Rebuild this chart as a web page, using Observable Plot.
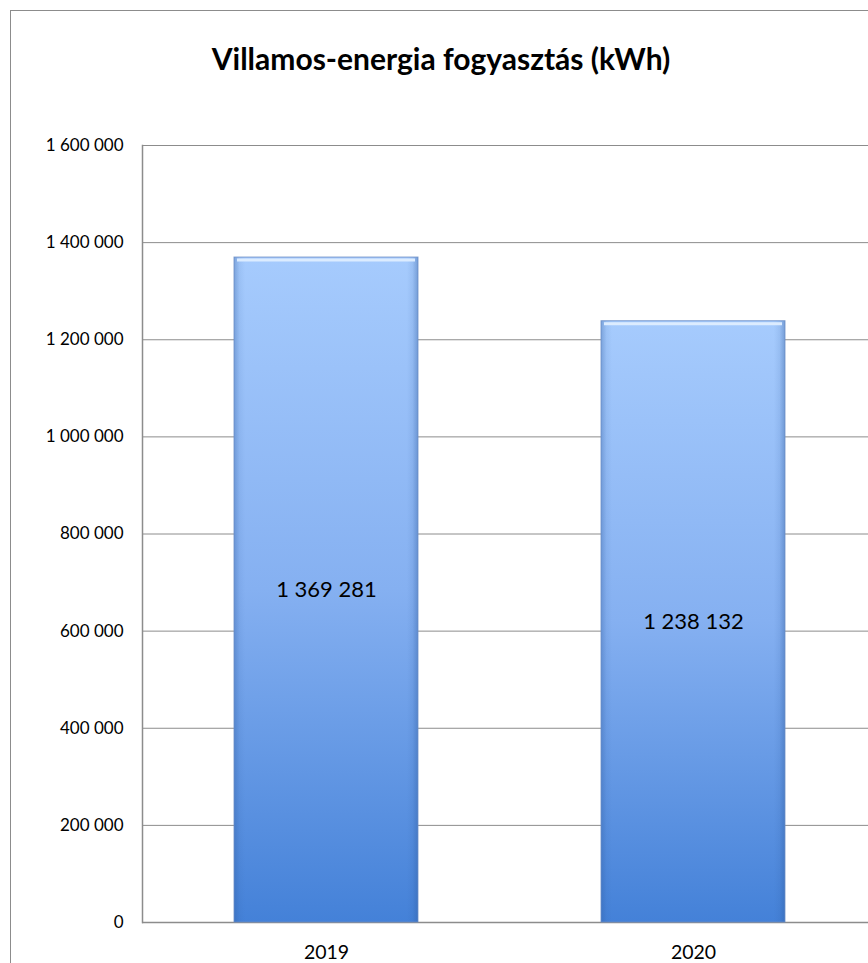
<!DOCTYPE html>
<html>
<head>
<meta charset="utf-8">
<script src="https://cdn.jsdelivr.net/npm/d3@7"></script>
<script src="https://cdn.jsdelivr.net/npm/@observablehq/plot@0.6"></script>
<style>
  html, body { margin: 0; padding: 0; background: #fff; overflow: hidden; }
  #wrap { position: relative; width: 868px; height: 963px; overflow: hidden; }
  #border { position: absolute; left: 10px; top: 10px; width: 900px; height: 1000px; border: 1px solid #8c8c8c; box-sizing: border-box; }
  #title { position: absolute; left: 10px; width: 862px; top: 40px; text-align: center;
           font-family: Lato, "Open Sans", sans-serif; font-weight: bold; font-size: 30px; color: #000; line-height: 36px; }
  #chart { position: absolute; left: 0; top: 0; width: 890px; height: 963px; }
  #chart svg { max-width: none !important; width: 890px; height: 963px; }
</style>
</head>
<body>
<div id="wrap">
  <div id="border"></div>
  <div id="chart"></div>
  <div id="title">Villamos-energia fogyasztás (kWh)</div>
</div>
<script>
const years = ["2019", "2020"];
const consumption = [1369281, 1238132];
const yTicks = [0, 200000, 400000, 600000, 800000, 1000000, 1200000, 1400000, 1600000];

const data = years.map((y, i) => ({year: y, value: consumption[i]}));
const fmt = v => d3.format(",")(v).replace(/,/g, " ");

const gradDefs = () => {
  const ns = "http://www.w3.org/2000/svg";
  const defs = document.createElementNS(ns, "defs");
  defs.innerHTML = `
    <linearGradient id="barGrad" x1="0" y1="0" x2="0" y2="1">
      <stop offset="0" stop-color="#a6cbfd"/>
      <stop offset="0.5" stop-color="#85b0f1"/>
      <stop offset="1" stop-color="#4481d8"/>
    </linearGradient>
    <linearGradient id="sideGrad" x1="0" y1="0" x2="1" y2="0">
      <stop offset="0" stop-color="#2d5a9e" stop-opacity="0.35"/>
      <stop offset="0.03" stop-color="#2d5a9e" stop-opacity="0.08"/>
      <stop offset="0.06" stop-color="#2d5a9e" stop-opacity="0"/>
      <stop offset="0.94" stop-color="#2d5a9e" stop-opacity="0"/>
      <stop offset="0.97" stop-color="#2d5a9e" stop-opacity="0.1"/>
      <stop offset="1" stop-color="#2d5a9e" stop-opacity="0.4"/>
    </linearGradient>`;
  return defs;
};

const chart = Plot.plot({
  width: 890,
  height: 963,
  marginLeft: 142,
  marginRight: 14,
  marginTop: 145,
  marginBottom: 41,
  style: {fontFamily: "Lato, 'Open Sans', sans-serif", background: "transparent", color: "#000", maxWidth: "none"},
  x: {domain: years, paddingInner: 0.5, paddingOuter: 0.25, label: null},
  y: {domain: [0, 1600000], label: null},
  marks: [
    gradDefs,
    Plot.ruleY(yTicks, {stroke: "#8c8c8c", strokeWidth: 1}),
    Plot.frame({anchor: "left", stroke: "#8c8c8c", strokeWidth: 1.5}),
    Plot.ruleY([0], {stroke: "#8c8c8c", strokeWidth: 1.5}),
    Plot.barY(data, {x: "year", y: "value", fill: "url(#barGrad)"}),
    Plot.barY(data, {x: "year", y: "value", fill: "url(#sideGrad)", stroke: "#6a8cc4", strokeWidth: 1, strokeOpacity: 0.8}),
    Plot.tickY(data, {x: "year", y: "value", stroke: "#dcecff", strokeWidth: 3, dy: 2.5, inset: 3}),
    Plot.text(data, {x: "year", y: d => d.value / 2, text: d => fmt(d.value), fontSize: 22, fill: "#000"}),
    Plot.axisY(yTicks, {tickSize: 0, tickPadding: 19, fontSize: 17, tickFormat: fmt, label: null}),
    Plot.axisX(years, {tickSize: 0, tickPadding: 23, fontSize: 19.5, label: null})
  ]
});
document.getElementById("chart").appendChild(chart);
</script>
</body>
</html>
